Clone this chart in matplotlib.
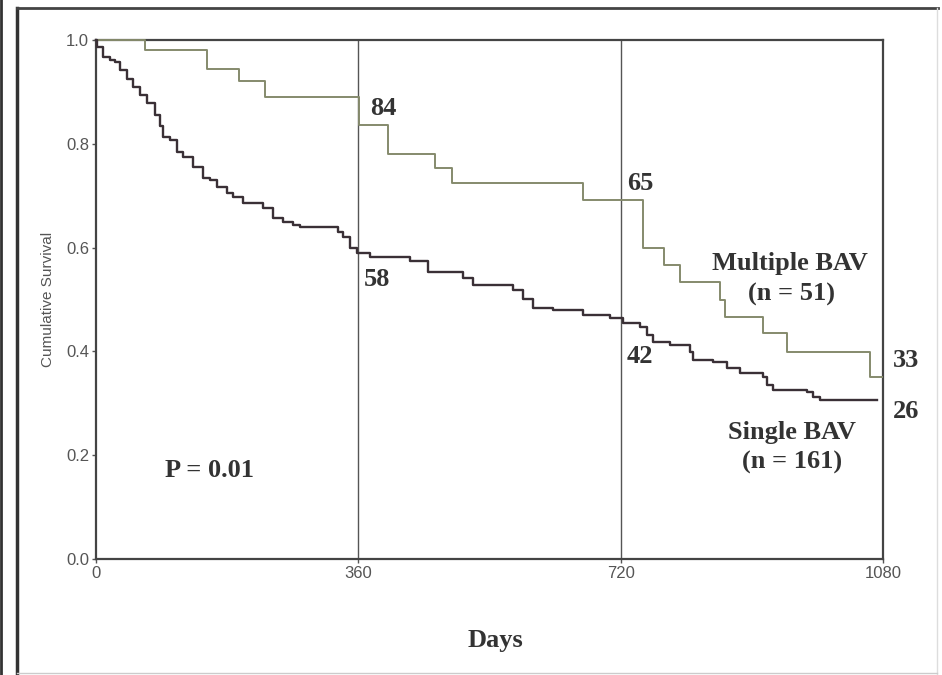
import matplotlib
matplotlib.use("Agg")
import matplotlib.pyplot as plt
from matplotlib.lines import Line2D

# Multiple BAV (n = 51) Kaplan-Meier steps
times_m = [0, 67, 152, 196, 232, 361, 401, 465, 489, 668, 751, 779, 801, 856, 863, 915, 948, 1062, 1078]
surv_m = [1.0, 0.980, 0.945, 0.921, 0.891, 0.836, 0.780, 0.753, 0.724, 0.692, 0.599, 0.566, 0.534,
          0.499, 0.466, 0.435, 0.399, 0.351, 0.351]

# Single BAV (n = 161) Kaplan-Meier steps
times_s = [0, 1, 10, 19, 26, 33, 42, 51, 60, 70, 81, 88, 92, 102, 111, 119, 133, 147, 156, 166,
           180, 188, 202, 229, 243, 257, 270, 280, 332, 339, 349, 358, 376, 431, 455, 504, 517, 572,
           586, 600, 627, 668, 705, 723, 747, 756, 764, 788, 815, 819, 847, 866, 884, 915, 921, 929,
           976, 984, 994, 1072]
surv_s = [1.0, 0.987, 0.967, 0.961, 0.958, 0.942, 0.925, 0.909, 0.894, 0.879, 0.855, 0.834, 0.813,
          0.807, 0.784, 0.775, 0.755, 0.734, 0.730, 0.717, 0.705, 0.697, 0.686, 0.676, 0.657, 0.649,
          0.644, 0.640, 0.630, 0.620, 0.599, 0.590, 0.582, 0.575, 0.553, 0.541, 0.528, 0.518, 0.501,
          0.484, 0.480, 0.470, 0.464, 0.455, 0.447, 0.432, 0.418, 0.412, 0.399, 0.383, 0.380, 0.368,
          0.358, 0.351, 0.335, 0.326, 0.322, 0.312, 0.306, 0.306]

x_ticks = [0, 360, 720, 1080]
y_ticks = [0.0, 0.2, 0.4, 0.6, 0.8, 1.0]
y_tick_labels = ["0.0", "0.2", "0.4", "0.6", "0.8", "1.0"]
ref_days = [360, 720]

serif = ["Liberation Serif", "DejaVu Serif"]
sans = ["Liberation Sans", "DejaVu Sans"]

fig = plt.figure(figsize=(9.42, 6.75), dpi=100)
fig.patch.set_facecolor("white")
ax = fig.add_axes([0.1019, 0.1719, 0.8355, 0.7689])

ax.set_xlim(0, 1080)
ax.set_ylim(0, 1.0)

for d in ref_days:
    ax.axvline(d, color="#555555", lw=1.0, zorder=1)

ax.plot(times_m, surv_m, drawstyle="steps-post", color="#858a6c", lw=1.4, zorder=3, clip_on=False)
ax.plot(times_s, surv_s, drawstyle="steps-post", color="#3a3036", lw=1.7, zorder=4, clip_on=False)

for sp in ax.spines.values():
    sp.set_color("#444444")
    sp.set_linewidth(1.6)

ax.set_xticks(x_ticks)
ax.set_xticklabels([str(v) for v in x_ticks], family=sans, fontsize=12, color="#555555")
ax.set_yticks(y_ticks)
ax.set_yticklabels(y_tick_labels, family=sans, fontsize=12, color="#555555")
ax.tick_params(axis="both", length=3, width=1, color="#555555", pad=2)

ax.set_ylabel("Cumulative Survival", family=sans, fontsize=11, color="#555555", labelpad=8)
ax.set_xlabel("Days", family=serif, fontsize=19, fontweight="bold", color="#333333")
ax.xaxis.set_label_coords(0.508, -0.135)

tk = dict(family=serif, fontsize=19, fontweight="bold", color="#333333", ha="center", va="center")
ax.text(394, 0.867, "84", **tk)
ax.text(747, 0.724, "65", **tk)
ax.text(386, 0.538, "58", **tk)
ax.text(747, 0.391, "42", **tk)
ax.text(1112, 0.383, "33", clip_on=False, **tk)
ax.text(1112, 0.285, "26", clip_on=False, **tk)
ax.text(952, 0.570, "Multiple BAV", **tk)
ax.text(955, 0.509, "(n = 51)", **tk)
ax.text(955, 0.243, "Single BAV", **tk)
ax.text(955, 0.185, "(n = 161)", **tk)
ax.text(156, 0.171, "P = 0.01", **tk)

# outer frame lines of the original figure
W, H = 942, 675
fig.add_artist(Line2D([17 / W, 17 / W], [0, 1 - 8 / H], color="#333333", lw=2.5))
fig.add_artist(Line2D([17 / W, 938 / W], [1 - 8 / H, 1 - 8 / H], color="#444444", lw=2.0))
fig.add_artist(Line2D([1 / W, 1 / W], [0, 1], color="#333333", lw=2.0))
fig.add_artist(Line2D([937 / W, 937 / W], [0, 1 - 8 / H], color="#dddddd", lw=1.0))
fig.add_artist(Line2D([17 / W, 937 / W], [2 / H, 2 / H], color="#cccccc", lw=1.0))

fig.savefig("out.png", dpi=100, facecolor="white")
